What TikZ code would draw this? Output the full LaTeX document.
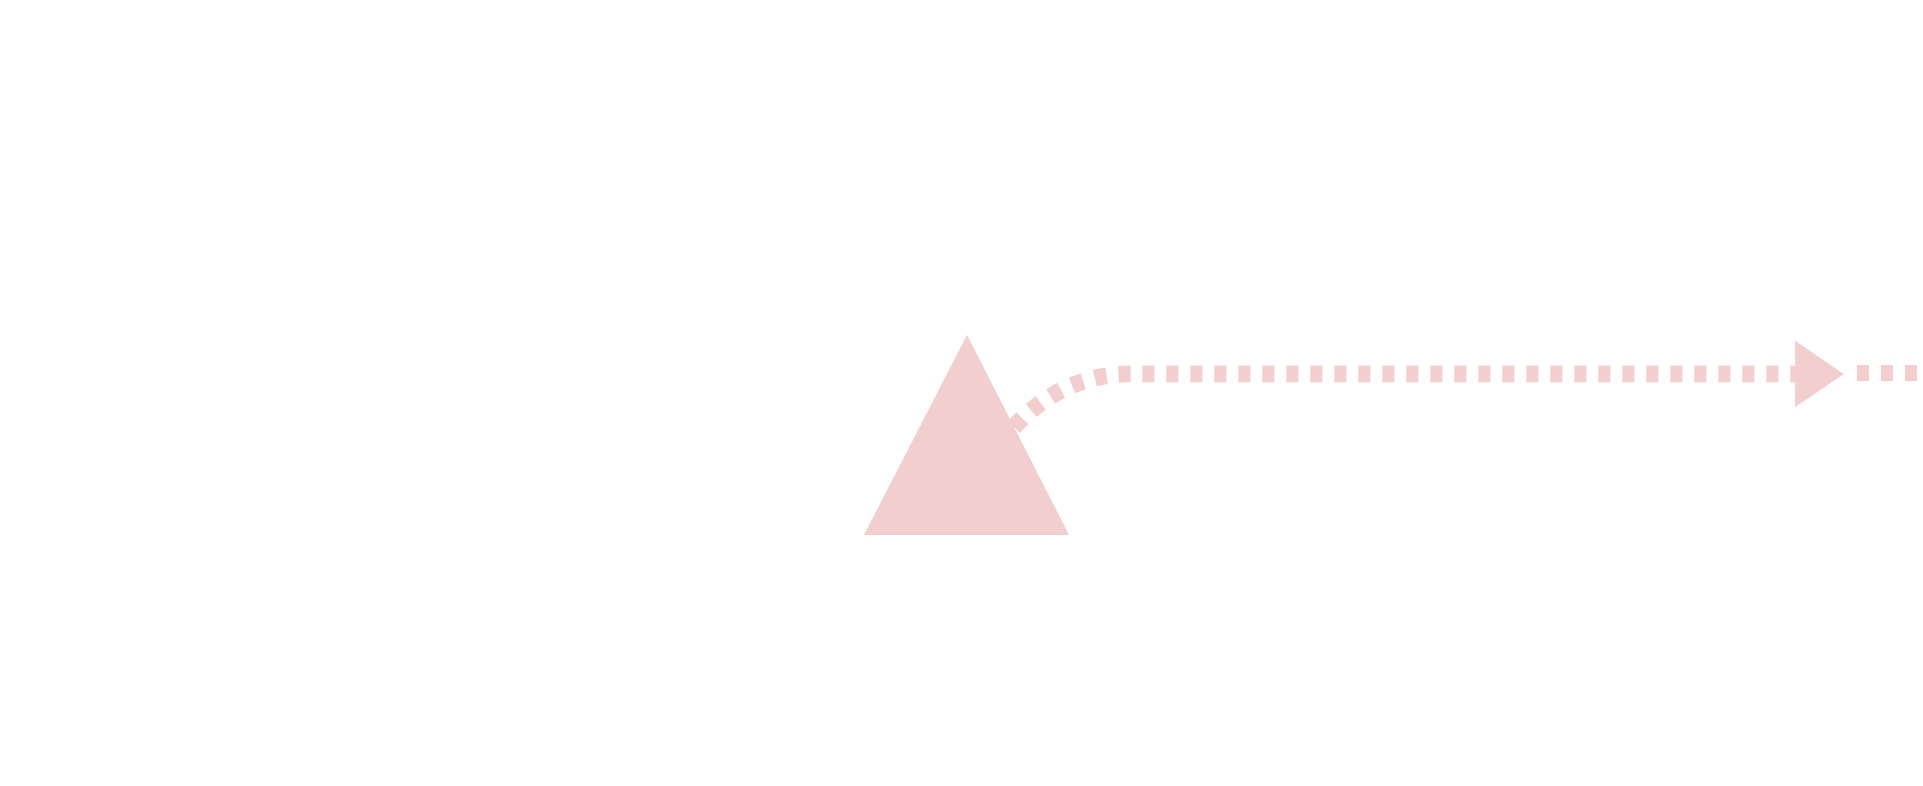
\documentclass[tikz,border=0pt]{standalone}
\usepackage{xcolor}
\usepackage{tikz}
\usetikzlibrary{arrows.meta,positioning}
\definecolor{lightrose}{RGB}{242, 207, 206}

\begin{document}
\begin{tikzpicture}[x=0.02cm, y=-0.02cm,
    beam/.style={draw=lightrose, line width=0.334cm, dash pattern=on 0.24cm off 0.24cm}]
    \useasboundingbox (0,0) rectangle (1923,786);

    % Prism
    \coordinate (apex) at (967,335);
    \coordinate (baseL) at (864,535);
    \coordinate (baseR) at (1069,535);
    \fill[lightrose] (apex) -- (baseL) -- (baseR) -- cycle;
    \path (apex) -- (baseR) coordinate[pos=0.46] (exitpt);

    % Beam leaving the prism
    \coordinate (bend) at (1130,374);
    \coordinate (head) at (1844,374);
    \coordinate (tail) at (1857,373);
    \coordinate (rim) at (1940,373);
    \draw[beam, -{Triangle[length=0.98cm, width=1.26cm]}] (exitpt) .. controls (1045,393) and (1085,374) .. (bend) -- (head);
    \draw[beam] (tail) -- (rim);
\end{tikzpicture}
\end{document}
